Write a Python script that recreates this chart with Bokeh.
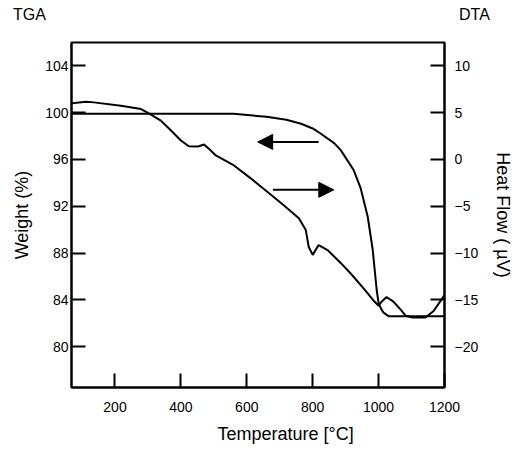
from bokeh.plotting import figure
from bokeh.layouts import column
from bokeh.models import Range1d, LinearAxis, FixedTicker, Arrow, NormalHead, Title, Div
from bokeh.embed import file_html
from bokeh.resources import INLINE

# ---- data ----
temp_tga = [68, 200, 400, 560, 660, 720, 765, 800, 825, 865, 885, 915, 924, 945,
            967, 982, 994, 1000, 1008, 1015, 1030, 1100, 1200]
weight = [99.9, 99.9, 99.9, 99.9, 99.65, 99.4, 99.05, 98.65, 98.2, 97.4, 96.8, 95.5, 95.1, 93.6,
          91.1, 88.3, 84.9, 83.7, 83.2, 82.9, 82.6, 82.6, 82.6]

temp_dta = [70, 112, 136, 218, 279, 303, 339, 370, 400, 424, 452, 470, 485, 506, 561, 612,
            664, 712, 758, 779, 788, 800, 818, 845, 885, 918, 955, 985, 1000, 1009, 1024,
            1045, 1067, 1082, 1103, 1142, 1167, 1200]
heat_flow = [6.0, 6.17, 6.1, 5.74, 5.39, 4.93, 4.15, 3.09, 2.02, 1.41, 1.38, 1.6, 1.14, 0.43,
             -0.64, -2.02, -3.51, -4.89, -6.28, -7.55, -9.36, -10.2, -9.15, -9.68, -11.06,
             -12.3, -13.8, -15.1, -15.64, -15.2, -14.7, -15.2, -16.06, -16.7, -16.9, -16.9,
             -16.2, -14.5]

x_ticks = [200, 400, 600, 800, 1000, 1200]
weight_ticks = [80, 84, 88, 92, 96, 100, 104]
heat_ticks = [-20, -15, -10, -5, 0, 5, 10]

x_label = "Temperature [°C]"
left_label = "Weight (%)"
right_label = "Heat Flow ( µV)"
left_title = "TGA"
right_title = "DTA"

# arrows (tail -> tip)
arrow_tga = dict(x_start=818, y_start=97.5, x_end=633, y_end=97.5)
arrow_dta = dict(x_start=679, y_start=93.4, x_end=864, y_end=93.4)

FONT = "Liberation Sans"
W = 516
TOP_H = 40
MAIN_H = 410

# ---- header strip holding the "TGA" / "DTA" captions ----
header = Div(
    text=(f'<div style="position:relative;width:{W}px;height:{TOP_H}px;'
          f"font-family:'Liberation Sans',Arial,sans-serif;font-size:16px;color:black;line-height:18px;\">"
          f'<span style="position:absolute;left:13px;top:6px;">{left_title}</span>'
          f'<span style="position:absolute;left:459px;top:6px;">{right_title}</span></div>'),
    width=W, height=TOP_H, margin=0)

# ---- main chart ----
p = figure(width=W, height=MAIN_H, output_backend="svg", toolbar_location=None,
           x_range=Range1d(68, 1200), y_range=Range1d(76.5, 106.0),
           min_border_left=71, min_border_right=72, min_border_top=2, min_border_bottom=62)
p.extra_y_ranges = {"dta": Range1d(-24.375, 12.5)}

p.xgrid.visible = False
p.ygrid.visible = False
p.outline_line_color = "black"
p.outline_line_width = 2

right_axis = LinearAxis(y_range_name="dta")
p.add_layout(right_axis, "right")

for ax in [p.xaxis[0], p.yaxis[0], right_axis]:
    ax.axis_line_width = 2
    ax.axis_line_color = "black"
    ax.major_tick_in = 14
    ax.major_tick_out = 0
    ax.major_tick_line_width = 2
    ax.minor_tick_line_color = None
    ax.major_label_text_font = FONT
    ax.major_label_text_font_size = "14px"
    ax.major_label_text_color = "black"
    ax.axis_label_text_font = FONT
    ax.axis_label_text_font_size = "18px"
    ax.axis_label_text_font_style = "normal"
    ax.axis_label_text_color = "black"

p.xaxis[0].ticker = FixedTicker(ticks=x_ticks)
p.yaxis[0].ticker = FixedTicker(ticks=weight_ticks)
right_axis.ticker = FixedTicker(ticks=heat_ticks)

p.xaxis[0].major_label_standoff = 14
p.yaxis[0].major_label_standoff = 3
right_axis.major_label_standoff = 10

p.yaxis[0].axis_label = left_label
p.yaxis[0].axis_label_standoff = 10
right_axis.axis_label = right_label
right_axis.axis_label_standoff = 12

p.add_layout(Title(text=x_label, align="left", offset=146, text_font=FONT,
                   text_font_size="18px", text_font_style="normal", text_color="black",
                   standoff=14), "below")

p.line(temp_tga, weight, line_color="black", line_width=2)
p.line(temp_dta, heat_flow, line_color="black", line_width=2, y_range_name="dta")

for a in (arrow_tga, arrow_dta):
    p.add_layout(Arrow(end=NormalHead(size=15, fill_color="black", line_color="black"),
                       line_width=2, line_color="black", **a))

open("out.html", "w").write(file_html(column(header, p, spacing=0), INLINE))
